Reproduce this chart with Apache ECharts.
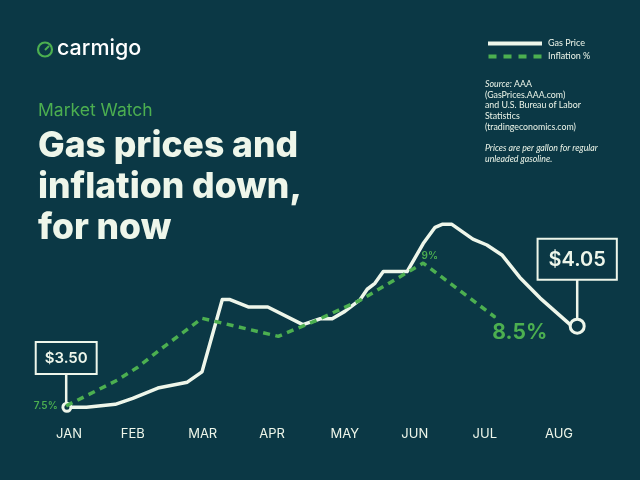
<!DOCTYPE html>
<html><head><meta charset="utf-8">
<style>html,body{margin:0;padding:0;background:#0b3845}#c{width:640px;height:480px}</style>
<script src="https://cdn.jsdelivr.net/npm/echarts@6/dist/echarts.min.js"></script>
</head><body><div id="c"></div>
<script>
const months = ['JAN','FEB','MAR','APR','MAY','JUN','JUL','AUG'];
const monthTicks = [0, 0.91, 1.91, 2.9, 3.94, 4.94, 5.94, 7];
const gasX = [-0.03,0.25,0.66,0.91,1.27,1.69,1.9,2.19,2.3,2.56,2.84,3.34,3.59,3.76,3.94,4.16,4.26,4.37,4.49,4.83,5.06,5.23,5.33,5.47,5.77,5.97,6.19,6.44,6.73,7.16,7.26];
const gasPrice = [3.50,3.50,3.52,3.56,3.63,3.67,3.74,4.23,4.23,4.18,4.18,4.06,4.10,4.10,4.15,4.23,4.30,4.34,4.42,4.42,4.61,4.72,4.74,4.74,4.64,4.60,4.53,4.38,4.24,4.06,4.05];
const inflationX = [-0.04,0.69,0.97,1.3,1.9,2.99,3.54,4.16,5.06,6.09];
const inflationPct = [7.5,7.77,7.9,8.09,8.42,8.23,8.4,8.61,9.0,8.43];
const calloutStart = {x:-0.04, base:3.5, top:3.735, text:'$3.50', size:15, pad:[8,8,7,8]};
const calloutEnd = {x:7.26, base:4.05, top:4.375, text:'$4.05', size:20, pad:[10,10,9,10]};
const BG='#0b3845', WHITE='#eef6ea', GREEN='#4caf50';
const SANS='Inter', TXT='Lato';

function callout(c){
  return {type:'line',silent:true,xAxisIndex:0,yAxisIndex:0,symbol:'none',z:3,
    lineStyle:{color:WHITE,width:2.5},
    data:[[c.x,c.base],{value:[c.x,c.top],symbol:'circle',symbolSize:1,itemStyle:{color:WHITE},
      label:{show:true,position:'top',distance:-1,formatter:c.text,
      color:WHITE,fontFamily:SANS,fontSize:c.size,fontWeight:600,backgroundColor:BG,borderColor:WHITE,borderWidth:2,
      padding:c.pad}}]};
}
const gasData = gasX.map((x,i)=>{
  const p=[x,gasPrice[i]];
  if(i===0) return {value:p,symbol:'circle',symbolSize:8};
  if(i===gasX.length-1) return {value:p,symbol:'circle',symbolSize:14};
  return {value:p,symbol:'none'};
});
const infLabel=(o)=>({symbol:'circle',symbolSize:1,label:Object.assign({show:true,color:GREEN,fontFamily:SANS,fontWeight:600,fontSize:10},o)});
const infData = inflationX.map((x,i)=>{
  let p={};
  if(i===0) p=infLabel({position:'left',distance:8,formatter:'7.5%'});
  if(inflationPct[i]===9) p=infLabel({position:[7,-7],align:'center',verticalAlign:'middle',formatter:'9%'});
  if(i===inflationX.length-1) p=infLabel({position:[25,16],align:'center',verticalAlign:'middle',formatter:'8.5%',fontSize:21,fontWeight:700});
  p.value=[x,inflationPct[i]];
  return p;
});
const chart=echarts.init(document.getElementById('c'),null,{renderer:'canvas'});
chart.setOption({
  animation:false,backgroundColor:BG,
  textStyle:{fontFamily:SANS},
  grid:{left:34,width:595,top:186,height:236},
  xAxis:{type:'value',min:-0.5,max:8,splitLine:{show:false},axisLine:{show:false},axisTick:{show:false},
    axisLabel:{customValues:monthTicks,margin:6,color:WHITE,fontFamily:SANS,fontSize:13,fontWeight:400,
      formatter:v=>months[monthTicks.indexOf(v)]}},
  yAxis:[{type:'value',min:3.4,max:5,show:false},{type:'value',min:7.33,max:9.81,show:false}],
  legend:{orient:'vertical',left:483,top:34,itemWidth:54,itemHeight:4,itemGap:4,
    data:[{name:'Gas Price',icon:'rect',itemStyle:{color:WHITE,borderWidth:0}},
      {name:'Inflation %',icon:'path://M0 0H8V4H0Z M15 0H23V4H15Z M30 0H38V4H30Z M45 0H53V4H45Z',itemStyle:{color:GREEN,borderWidth:0}}],
    textStyle:{color:WHITE,fontFamily:TXT,fontSize:9,padding:[0,0,0,1]}},
  title:[
    {text:'carmigo',left:52,top:33,textStyle:{color:'#ffffff',fontFamily:'Inter',fontSize:21.5,fontWeight:500}},
    {text:'Market Watch',left:33,top:97,textStyle:{color:GREEN,fontFamily:'Inter',fontSize:17.5,fontWeight:400}},
    {text:'Gas prices and\ninflation down,\nfor now',left:33,top:120.5,
      textStyle:{color:WHITE,fontFamily:'Inter',fontSize:35.5,fontWeight:800,lineHeight:41}},
    {text:'{i|Source:} AAA\n(GasPrices.AAA.com)\nand U.S. Bureau of Labor\nStatistics\n(tradingeconomics.com)',left:480,top:74,
      textStyle:{color:WHITE,fontFamily:TXT,fontSize:8.8,lineHeight:10.6,fontWeight:400,
        rich:{i:{fontStyle:'italic',fontFamily:TXT,fontSize:8.8,color:WHITE}}}},
    {text:'Prices are per gallon for regular\nunleaded gasoline.',left:480,top:138,
      textStyle:{color:WHITE,fontFamily:TXT,fontSize:8.8,fontStyle:'italic',fontWeight:400,lineHeight:10.6}}
  ],
  graphic:[{type:'circle',shape:{cx:45,cy:49.5,r:7},style:{fill:'none',stroke:GREEN,lineWidth:2.2}},
    {type:'line',shape:{x1:45,y1:50,x2:49,y2:46},style:{stroke:GREEN,lineWidth:2}}],
  series:[
    callout(calloutStart),callout(calloutEnd),
    {name:'Gas Price',type:'line',yAxisIndex:0,z:4,showSymbol:true,symbol:'none',
      lineStyle:{color:WHITE,width:3.5,join:'round'},itemStyle:{color:BG,borderColor:WHITE,borderWidth:3},
      data:gasData},
    {name:'Inflation %',type:'line',yAxisIndex:1,z:5,symbol:'none',
      lineStyle:{color:GREEN,width:3.5,type:[7,5.5],cap:'butt'},itemStyle:{color:GREEN},labelLayout:{hideOverlap:false},
      data:infData}
  ]
});
</script></body></html>
